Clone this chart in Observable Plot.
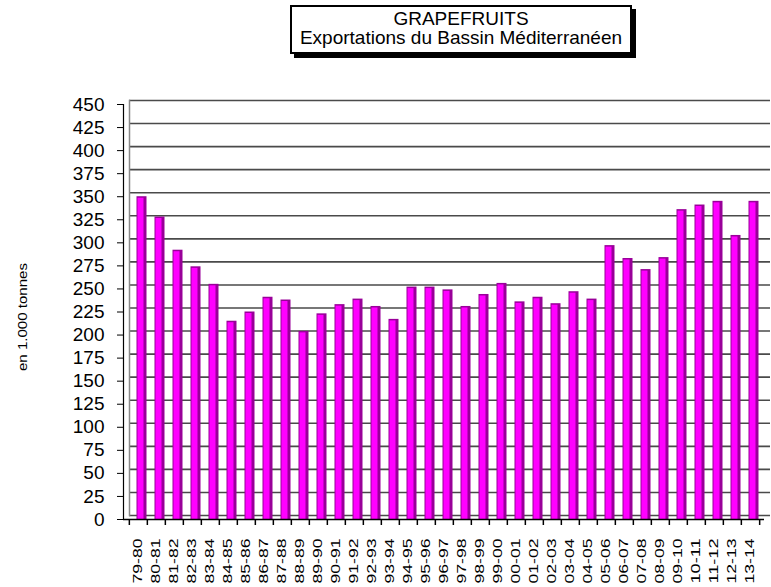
<!DOCTYPE html>
<html><head><meta charset="utf-8">
<script src="https://cdn.jsdelivr.net/npm/d3@7"></script>
<script src="https://cdn.jsdelivr.net/npm/@observablehq/plot@0.6"></script>
<style>
body{margin:0;background:#fff;}
#wrap{position:relative;width:771px;height:587px;overflow:hidden;font-family:"Liberation Sans",Arial,sans-serif;}
#title{position:absolute;left:290px;top:5px;width:338px;height:43px;padding-top:2px;border:2px solid #000;box-shadow:4px 4px 0 #000;background:#fff;text-align:center;font-size:19px;line-height:19px;color:#000;z-index:2;}
#chart{position:absolute;left:0;top:0;}
</style></head><body>
<div id="wrap"><div id="title">GRAPEFRUITS<br>Exportations du Bassin Méditerranéen</div><div id="chart"></div></div>
<script>
const seasons = ["79-80","80-81","81-82","82-83","83-84","84-85","85-86","86-87","87-88","88-89","89-90","90-91","91-92","92-93","93-94","94-95","95-96","96-97","97-98","98-99","99-00","00-01","01-02","02-03","03-04","04-05","05-06","06-07","07-08","08-09","09-10","10-11","11-12","12-13","13-14"];
const exportsKt = [350,328,292,274,255,215,225,241,238,204,223,233,239,231,217,252,252,249,231,244,256,236,241,234,247,239,297,283,271,284,336,341,345,308,345];
const yTicks = d3.range(0, 451, 25);
const yLabel = "en 1.000 tonnes";

const data = seasons.map((s, i) => ({season: s, value: exportsKt[i]}));
const W = 771, H = 587, mL = 123, mR = 7;
const step = (W - mL - mR) / seasons.length;

const chart = Plot.plot({
  width: W, height: H,
  marginTop: 104, marginBottom: 68, marginLeft: mL, marginRight: mR,
  style: {fontFamily: "'Liberation Sans', Arial, sans-serif", background: "transparent", color: "#000", overflow: "visible"},
  x: {domain: seasons, padding: 0, axis: null, label: null},
  y: {domain: [0, 450], axis: null, label: null},
  marks: [
    Plot.gridY(yTicks, {stroke: "#4a4a4a", strokeOpacity: 1, strokeWidth: 1.6, dx: 6, dy: -4}),
    Plot.frame({anchor: "left", stroke: "#888", strokeWidth: 1.5, dx: 6, dy: -4}),
    Plot.barY(data, {x: "season", y: "value", fill: "#990099", insetLeft: 7.5, insetRight: 0.5}),
    Plot.barY(data, {x: "season", y: "value", fill: "#ff00ff", insetLeft: 8.5, insetRight: 3.5, insetTop: 1.5}),
    Plot.frame({anchor: "left", stroke: "#000", strokeWidth: 1.2}),
    Plot.ruleY([0], {stroke: "#000", strokeWidth: 1.5}),
    Plot.axisY(yTicks, {anchor: "left", label: null, tickSize: 6, tickPadding: 13, fontSize: 19, stroke: "#000"}),
    Plot.axisX(seasons, {label: null, tickSize: 6, tickFormat: () => "", dx: -step / 2, stroke: "#000", strokeWidth: 1.5}),
    Plot.axisX([seasons[seasons.length - 1]], {label: null, tickSize: 6, tickFormat: () => "", dx: step / 2, stroke: "#000", strokeWidth: 1.5}),
    Plot.axisX(seasons, {label: null, tickSize: 0, tickPadding: 19, tickRotate: -90, textAnchor: "end", fontSize: 12}),
    Plot.text([yLabel], {frameAnchor: "left", rotate: -90, textAnchor: "start", dx: -101, dy: 59, fontSize: 13, fill: "#000"})
  ]
});
document.getElementById("chart").appendChild(chart);

d3.select(chart).selectAll('g[aria-label="x-axis tick label"] text').each(function() {
  const t = this.textContent;
  if (t && t.length) { this.setAttribute("textLength", 45); this.setAttribute("lengthAdjust", "spacingAndGlyphs"); }
});
d3.select(chart).selectAll("text").each(function() {
  if (this.textContent === yLabel) { this.setAttribute("textLength", 108); this.setAttribute("lengthAdjust", "spacingAndGlyphs"); }
});
</script>
</body></html>
